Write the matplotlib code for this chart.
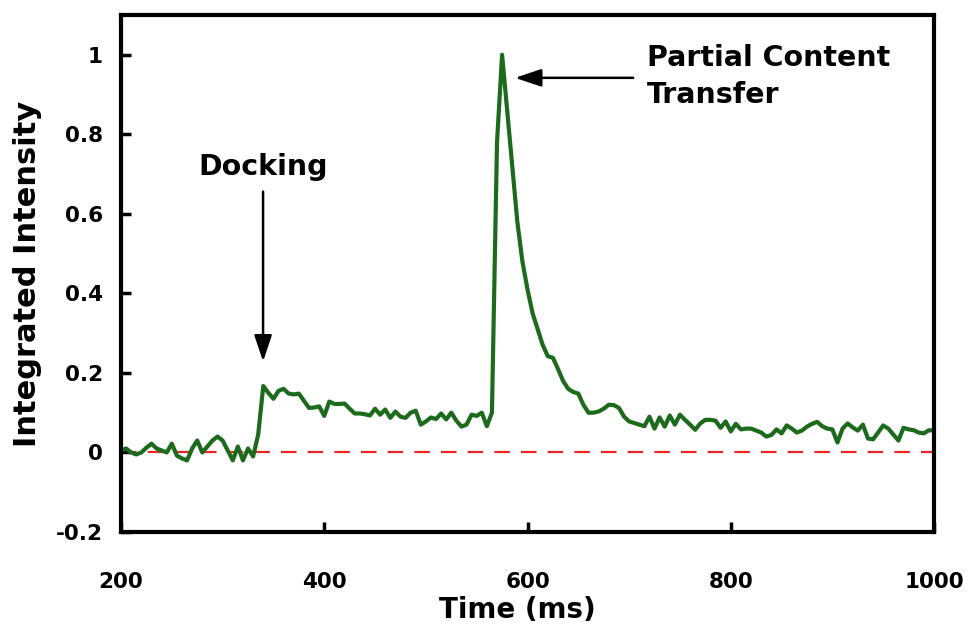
import numpy as np
import matplotlib
matplotlib.use("Agg")
import matplotlib.pyplot as plt

plt.rcParams['font.family'] = ['DejaVu Sans']
plt.rcParams['font.weight'] = 'bold'

time_ms = np.arange(200, 1001, 5)
intensity = [
    0.005, 0.010, 0.000, -0.005, 0.000, 0.012, 0.022, 0.010, 0.005, 0.000,   # 200-245
    0.022, -0.008, -0.015, -0.020, 0.010, 0.030, 0.000, 0.015, 0.030, 0.040,  # 250-295
    0.030, 0.005, -0.020, 0.015, -0.020, 0.010, -0.010, 0.045, 0.167, 0.150,  # 300-345
    0.135, 0.155, 0.160, 0.148, 0.146, 0.148, 0.130, 0.112, 0.113, 0.116,     # 350-395
    0.092, 0.128, 0.122, 0.122, 0.123, 0.110, 0.098, 0.098, 0.096, 0.093,     # 400-445
    0.110, 0.095, 0.108, 0.087, 0.103, 0.090, 0.087, 0.100, 0.105, 0.070,     # 450-495
    0.078, 0.088, 0.084, 0.098, 0.083, 0.100, 0.080, 0.065, 0.070, 0.095,     # 500-545
    0.092, 0.100, 0.066, 0.100, 0.780, 1.000, 0.860, 0.720, 0.580, 0.480,     # 550-595
    0.410, 0.350, 0.310, 0.270, 0.242, 0.238, 0.210, 0.180, 0.160, 0.152,     # 600-645
    0.148, 0.120, 0.100, 0.100, 0.103, 0.110, 0.120, 0.119, 0.112, 0.090,     # 650-695
    0.078, 0.074, 0.070, 0.066, 0.090, 0.060, 0.088, 0.065, 0.093, 0.070,     # 700-745
    0.095, 0.082, 0.070, 0.057, 0.073, 0.082, 0.082, 0.080, 0.062, 0.078,     # 750-795
    0.053, 0.072, 0.058, 0.060, 0.060, 0.055, 0.050, 0.040, 0.044, 0.058,     # 800-845
    0.048, 0.068, 0.060, 0.050, 0.055, 0.065, 0.072, 0.077, 0.066, 0.060,     # 850-895
    0.058, 0.025, 0.060, 0.073, 0.063, 0.055, 0.070, 0.035, 0.033, 0.050,     # 900-945
    0.068, 0.060, 0.045, 0.030, 0.062, 0.058, 0.056, 0.050, 0.048, 0.056,     # 950-995
    0.055,                                                                      # 1000
]

x_ticks = [200, 400, 600, 800, 1000]
y_ticks = [-0.2, 0, 0.2, 0.4, 0.6, 0.8, 1]
y_tick_labels = ["-0.2", "0", "0.2", "0.4", "0.6", "0.8", "1"]

fig = plt.figure(figsize=(9.73, 6.28), dpi=100)
ax = fig.add_axes([121/973, 1 - 532/628, (934-121)/973, (532-15)/628])

ax.axhline(0, color='#e8262a', lw=1.6, ls=(0, (7, 5)), zorder=1)
ax.plot(time_ms, intensity, color='#1c6b1c', lw=3.0, zorder=2, solid_joinstyle='round')

ax.set_xlim(200, 1000)
ax.set_ylim(-0.2, 1.1)
ax.set_xticks(x_ticks)
ax.set_xticklabels([str(t) for t in x_ticks])
ax.set_yticks(y_ticks)
ax.set_yticklabels(y_tick_labels)

for s in ax.spines.values():
    s.set_linewidth(3)
ax.tick_params(axis='both', direction='in', length=7, width=2.5, labelsize=15.5)
ax.tick_params(axis='x', pad=29)
ax.tick_params(axis='y', pad=13)
for lab in ax.get_xticklabels() + ax.get_yticklabels():
    lab.set_fontweight('bold')

ax.set_xlabel("Time (ms)", fontsize=20, fontweight='bold', va='center')
ax.xaxis.set_label_coords(0.488, -0.151)
ax.set_ylabel("Integrated Intensity", fontsize=22, fontweight='bold', va='center')
ax.yaxis.set_label_coords(-0.1156, 0.5)

arrow_kw = dict(arrowstyle='-|>,head_length=0.8,head_width=0.27', lw=1.8,
                color='black', mutation_scale=20, shrinkA=0, shrinkB=0)
ax.annotate("", xy=(339.8, 0.229), xytext=(339.8, 0.656), arrowprops=arrow_kw)
ax.text(339.8, 0.719, "Docking", fontsize=20.5, fontweight='bold', ha='center', va='center')

ax.annotate("", xy=(587.8, 0.942), xytext=(704, 0.942), arrowprops=arrow_kw)
ax.text(717.7, 0.946, "Partial Content\nTransfer", fontsize=20.5, fontweight='bold',
        ha='left', va='center', linespacing=1.4)

fig.savefig("out.png", dpi=100)
